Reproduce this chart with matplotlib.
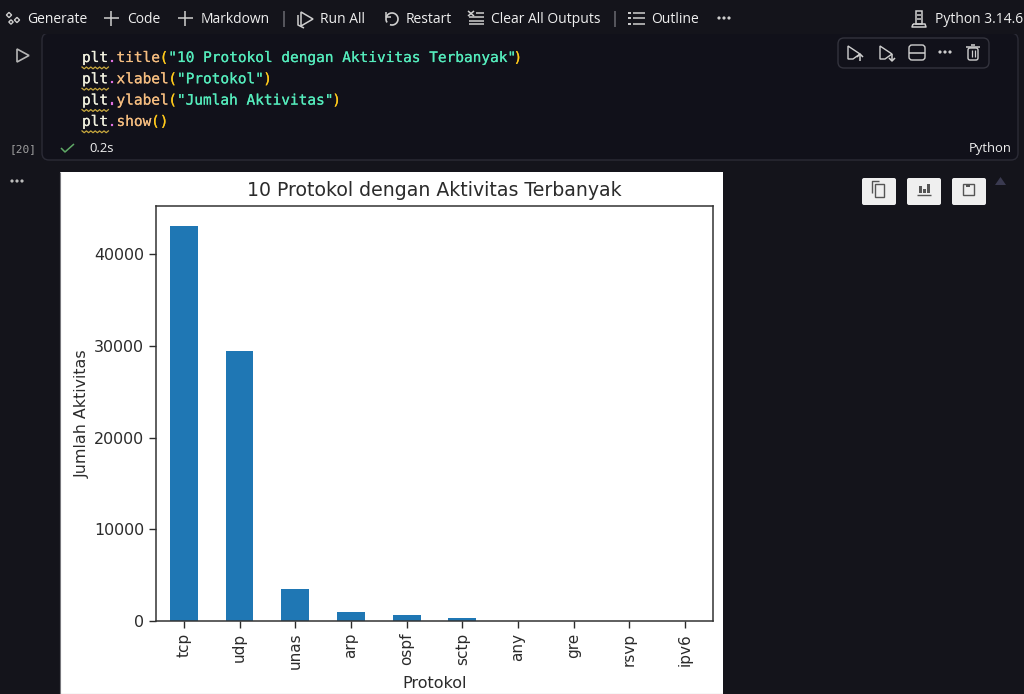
import matplotlib
matplotlib.use('Agg')
import matplotlib.pyplot as plt
import matplotlib.patheffects as pe
from matplotlib.patches import Rectangle, FancyBboxPatch, Polygon, Circle, Arc

# chart values
protocols = ['tcp', 'udp', 'unas', 'arp', 'ospf', 'sctp', 'any', 'gre', 'rsvp', 'ipv6']
activity = [43136, 29430, 3460, 1020, 650, 300, 40, 30, 20, 15]

# toolbar labels
toolbar_items = [('Generate', 27), ('Code', 127), ('Markdown', 201), ('Run All', 320),
                 ('Restart', 406), ('Clear All Outputs', 491), ('Outline', 651)]

# notebook cell source, one list of (text, colour) per line
ORANGE = '#f5bd80'
YELLOW = '#ffc91a'
GREEN = '#55ecbc'
code_lines = [
    [('plt', '#f2f2e0'), ('.', '#e070e0'), ('title', ORANGE), ('(', YELLOW),
     ('"10 Protokol dengan Aktivitas Terbanyak"', GREEN), (')', YELLOW)],
    [('plt', '#f2f2e0'), ('.', '#e070e0'), ('xlabel', ORANGE), ('(', YELLOW),
     ('"Protokol"', GREEN), (')', YELLOW)],
    [('plt', '#f2f2e0'), ('.', '#e070e0'), ('ylabel', ORANGE), ('(', YELLOW),
     ('"Jumlah Aktivitas"', GREEN), (')', YELLOW)],
    [('plt', '#f2f2e0'), ('.', '#e070e0'), ('show', ORANGE), ('()', YELLOW)],
]

W, H = 1024, 694
BG = '#14141b'
CELL = '#11111a'
FG = '#efefef'
ICON = '#cfcfcf'
DARK = '#2b2b2b'

fig = plt.figure(figsize=(W / 100, H / 100), dpi=100, facecolor=BG)

# overlay in pixel coordinates for the editor window around the chart
ui = fig.add_axes([0, 0, 1, 1])
ui.set_xlim(0, W)
ui.set_ylim(H, 0)
ui.axis('off')


def line(xs, ys, color=ICON, lw=1.1):
    ui.plot(xs, ys, color=color, lw=lw, solid_capstyle='butt')


def dots(x, y, color=ICON):
    for dx in (-5, 0, 5):
        ui.add_patch(Circle((x + dx, y), 0.9, color=color))


def label(x, y, text, size=10.0, color=FG, ha='left', family='Open Sans'):
    ui.text(x, y, text, fontsize=size, color=color, ha=ha, va='center', family=family)


# code cell
ui.add_patch(FancyBboxPatch((42, 33), 976, 127, boxstyle='round,pad=0,rounding_size=7',
                            fc=CELL, ec='#2b2b36', lw=1))
ui.add_patch(Rectangle((0, 0), W, 34, fc=BG, ec='none'))

# toolbar
for text, x in toolbar_items:
    label(x, 19, text)
label(935, 19, 'Python 3.14.6')
dots(724, 18)

# toolbar icons
for cx, cy, r in [(9, 15, 2.6), (11, 22, 2.2), (17, 20, 2.6)]:
    ui.add_patch(Polygon([(cx - r, cy), (cx, cy - r), (cx + r, cy), (cx, cy + r)],
                         fc='none', ec=ICON, lw=1))
for cx in (111, 185):
    line([cx - 7.5, cx + 7.5], [18, 18], lw=1.1)
    line([cx, cx], [10.5, 25.5], lw=1.1)
line([284, 284], [11, 27], '#6a6a70')
line([615, 615], [11, 27], '#6a6a70')
ui.add_patch(Polygon([(301, 12), (313, 19), (301, 26)], fc='none', ec=ICON, lw=1.1))
line([298, 298, 304], [15, 25, 28])
ui.add_patch(Arc((392, 19), 12, 12, theta1=-215, theta2=110, ec=ICON, lw=1.2))
line([386, 386, 391], [12, 17, 17], lw=1.1)
line([468, 474], [11, 16])
line([474, 468], [11, 16])
line([476, 484], [13, 13])
for y in (17, 20.5, 24):
    line([469, 484], [y, y])
for y in (13, 18, 24):
    line([628, 630.5], [y, y], lw=1.4)
    line([633, 645], [y, y])
# kernel icon
ui.add_patch(Rectangle((916, 11), 6, 13, fc='none', ec=ICON, lw=1.1))
line([913, 925, 926, 912, 913], [24, 24, 27, 27, 24])
line([917, 921], [15, 15])
line([917, 921], [19, 19])

# run button and execution info
ui.add_patch(Polygon([(17, 49), (29, 55.5), (17, 62)], fc='none', ec='#b5b5b5', lw=1.2))
label(10, 149, '[20]', size=8, color='#a0a0a0', family='DejaVu Sans Mono')
line([61, 65, 74], [148, 152, 144], '#5fa866', 1.1)
label(89, 148, '0.2s', size=9.4)
label(1012, 148, 'Python', size=9.4, ha='right')
dots(17, 181, '#bdbdbd')

# code text, placed character by character width
char_w = 8.63
for row, parts in enumerate(code_lines):
    y = 58 + row * 21.3
    col = 0
    for text, color in parts:
        ui.text(82 + col * char_w, y, text, fontsize=10.4, color=color, va='center',
                family='DejaVu Sans Mono',
                path_effects=[pe.withStroke(linewidth=0.12, foreground=color)])
        col += len(text)
    # squiggle under plt
    xs = [82 + i * 2.2 for i in range(13)]
    ys = [y + 9 + (i % 2) * 1.8 for i in range(13)]
    ui.plot(xs, ys, color='#c9a93e', lw=0.9)

# floating cell toolbar
ui.add_patch(FancyBboxPatch((838, 38), 151, 30, boxstyle='round,pad=0,rounding_size=6',
                            fc=CELL, ec='#33333d', lw=1))
for x0 in (848, 880):
    ui.add_patch(Polygon([(x0, 46), (x0 + 12, 54), (x0 + 5, 59), (x0, 59)], fc='none', ec=ICON, lw=1))
line([860, 860], [54, 61])
line([857, 860, 863], [57, 54, 57])
line([892, 892], [54, 61])
line([889, 892, 895], [58, 61, 58])
ui.add_patch(FancyBboxPatch((909, 45), 16, 15, boxstyle='round,pad=0,rounding_size=3',
                            fc='none', ec=ICON, lw=1))
line([909, 925], [52.5, 52.5])
dots(945, 52)
ui.add_patch(FancyBboxPatch((968, 48), 10, 12, boxstyle='round,pad=0,rounding_size=2',
                            fc='none', ec=ICON, lw=1))
line([966, 980], [47, 47])
line([971, 975], [44.5, 44.5])
line([971.5, 971.5], [50, 57], lw=0.9)
line([974.5, 974.5], [50, 57], lw=0.9)

# output buttons
for x0 in (862, 907, 952):
    ui.add_patch(FancyBboxPatch((x0, 178), 34, 27, boxstyle='round,pad=0,rounding_size=2',
                                fc='#efefef', ec='none'))
ICON_D = '#555555'
ui.add_patch(Rectangle((875, 184), 9, 13, fc='none', ec=ICON_D, lw=1))
line([872, 872, 879], [193, 181, 181], ICON_D, 1)
for x0, top in ((919, 186), (923, 189), (927, 184)):
    ui.add_patch(Rectangle((x0, top), 2.5, 193 - top, fc=ICON_D, ec='none'))
line([917, 931], [195, 195], ICON_D, 1)
ui.add_patch(Rectangle((963, 184), 11, 11, fc='none', ec=ICON_D, lw=1))
ui.add_patch(Rectangle((966, 184), 4, 3, fc=ICON_D, ec='none'))
ui.add_patch(Polygon([(995, 185), (1006, 185), (1000.5, 177)], fc='#3a3a50', ec='none'))

# white image area with its thin grey edge
ui.add_patch(Rectangle((60, 172), 663, 522, fc='white', ec='none'))
line([60, 60], [172, 694], '#77777c', 0.8)
line([60, 723], [693.7, 693.7], '#77777c', 0.8)

# the chart itself
ax = fig.add_axes([156 / W, 1 - 621 / H, (713 - 156) / W, (621 - 206) / H])
ax.bar(protocols, activity, width=0.5, color='#1f77b4')
ax.set_xlim(-0.5, 9.5)
ax.set_title('10 Protokol dengan Aktivitas Terbanyak', fontsize=13.6, pad=7, color=DARK)
ax.set_xlabel('Protokol', fontsize=11.5, labelpad=5, color=DARK)
ax.set_ylabel('Jumlah Aktivitas', fontsize=11.4, labelpad=3, color=DARK)
ax.tick_params(axis='both', length=5, width=1, color=DARK, labelcolor=DARK)
ax.tick_params(axis='y', labelsize=11.4)
ax.tick_params(axis='x', labelsize=11, labelrotation=90)
for s in ax.spines.values():
    s.set_linewidth(1.1)
    s.set_color('#333333')

fig.savefig('out.png', dpi=100, facecolor=BG)
